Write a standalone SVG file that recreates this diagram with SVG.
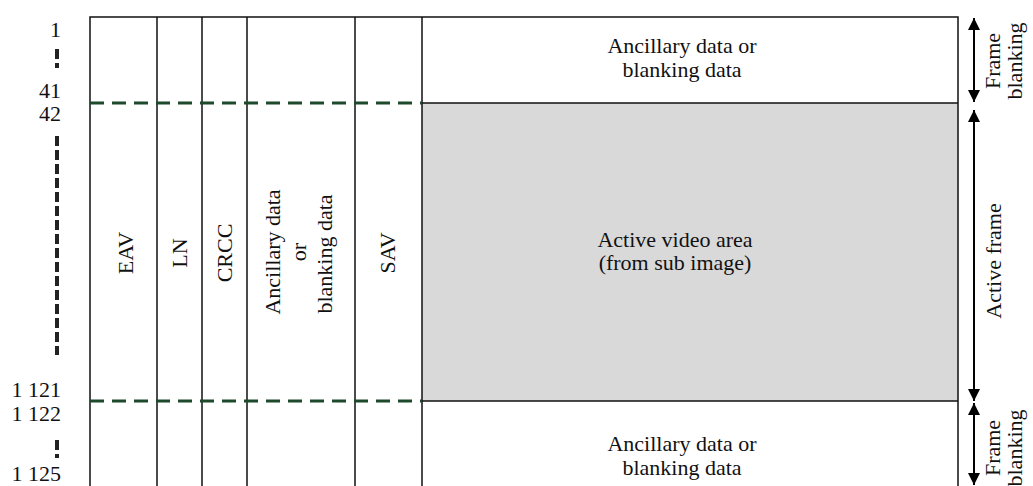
<svg xmlns="http://www.w3.org/2000/svg" width="1033" height="486" viewBox="0 0 1033 486">
<defs>
<style>
.t{font-family:"Liberation Serif","Times New Roman",serif;font-size:22px;fill:#111;}
.m{text-anchor:middle;}
.e{text-anchor:end;}
.ln{stroke:#111;stroke-width:1.5;fill:none;}
.dg{stroke:#1d4a2c;stroke-width:3.2;stroke-dasharray:14 8;fill:none;}
.vd{stroke:#222;stroke-width:4;stroke-dasharray:10 4;fill:none;}
.ar{stroke:#000;stroke-width:2;fill:none;}
</style>
<marker id="ah" viewBox="0 0 12 12" refX="12" refY="6" markerWidth="12" markerHeight="12" markerUnits="userSpaceOnUse" orient="auto-start-reverse">
<path d="M0,0 L12,6 L0,12 Z" fill="#000"/>
</marker>
</defs>
<rect width="1033" height="486" fill="#fff"/>

<g id="active-video">
<rect x="422" y="103" width="536" height="298" fill="#d9d9d9"/>
<text class="t m" x="675" y="247">Active video area</text>
<text class="t m" x="675" y="270">(from sub image)</text>
</g>

<g id="frame-grid">
<path class="ln" d="M90,486 V17 H958 V486"/>
<path class="ln" d="M157,17 V486 M202,17 V486 M247,17 V486 M355,17 V486 M422,17 V486"/>
<path class="ln" d="M422,103 H958 M422,401 H958"/>
</g>

<g id="top-blanking">
<text class="t m" x="682" y="53">Ancillary data or</text>
<text class="t m" x="682" y="77">blanking data</text>
</g>
<g id="bottom-blanking">
<text class="t m" x="682" y="451">Ancillary data or</text>
<text class="t m" x="682" y="475">blanking data</text>
</g>

<g id="col-eav"><text class="t m" transform="translate(133,253) rotate(-90)">EAV</text></g>
<g id="col-ln"><text class="t m" transform="translate(187,253) rotate(-90)">LN</text></g>
<g id="col-crcc"><text class="t m" transform="translate(232,253) rotate(-90)">CRCC</text></g>
<g id="col-anc">
<text class="t m" transform="translate(280,252) rotate(-90)">Ancillary data</text>
<text class="t m" transform="translate(306,252) rotate(-90)">or</text>
<text class="t m" transform="translate(332,254) rotate(-90)">blanking data</text>
</g>
<g id="col-sav"><text class="t m" transform="translate(395,253) rotate(-90)">SAV</text></g>

<g id="line-numbers">
<text class="t e" x="61" y="37">1</text>
<path class="vd" d="M57,49 V68"/>
<text class="t e" x="61" y="98">41</text>
<text class="t e" x="61" y="121">42</text>
<path class="vd" d="M57,136 V355"/>
<text class="t e" x="61" y="397">1 121</text>
<text class="t e" x="61" y="421">1 122</text>
<path class="vd" d="M57,440 V458"/>
<text class="t e" x="61" y="481">1 125</text>
</g>

<g id="connectors">
<path class="dg" d="M90,103 H422"/>
<path class="dg" d="M90,401 H422"/>
<path class="ar" d="M974,18 V102" marker-start="url(#ah)" marker-end="url(#ah)"/>
<path class="ar" d="M974,110 V401" marker-start="url(#ah)" marker-end="url(#ah)"/>
<path class="ar" d="M974,403 V485" marker-start="url(#ah)" marker-end="url(#ah)"/>
</g>

<g id="side-labels">
<text class="t m" transform="translate(1000,61) rotate(-90)">Frame</text>
<text class="t m" transform="translate(1022,61) rotate(-90)">blanking</text>
<text class="t m" transform="translate(1001,261) rotate(-90)">Active frame</text>
<text class="t m" transform="translate(1000,448) rotate(-90)">Frame</text>
<text class="t m" transform="translate(1022,448) rotate(-90)">blanking</text>
</g>
</svg>
